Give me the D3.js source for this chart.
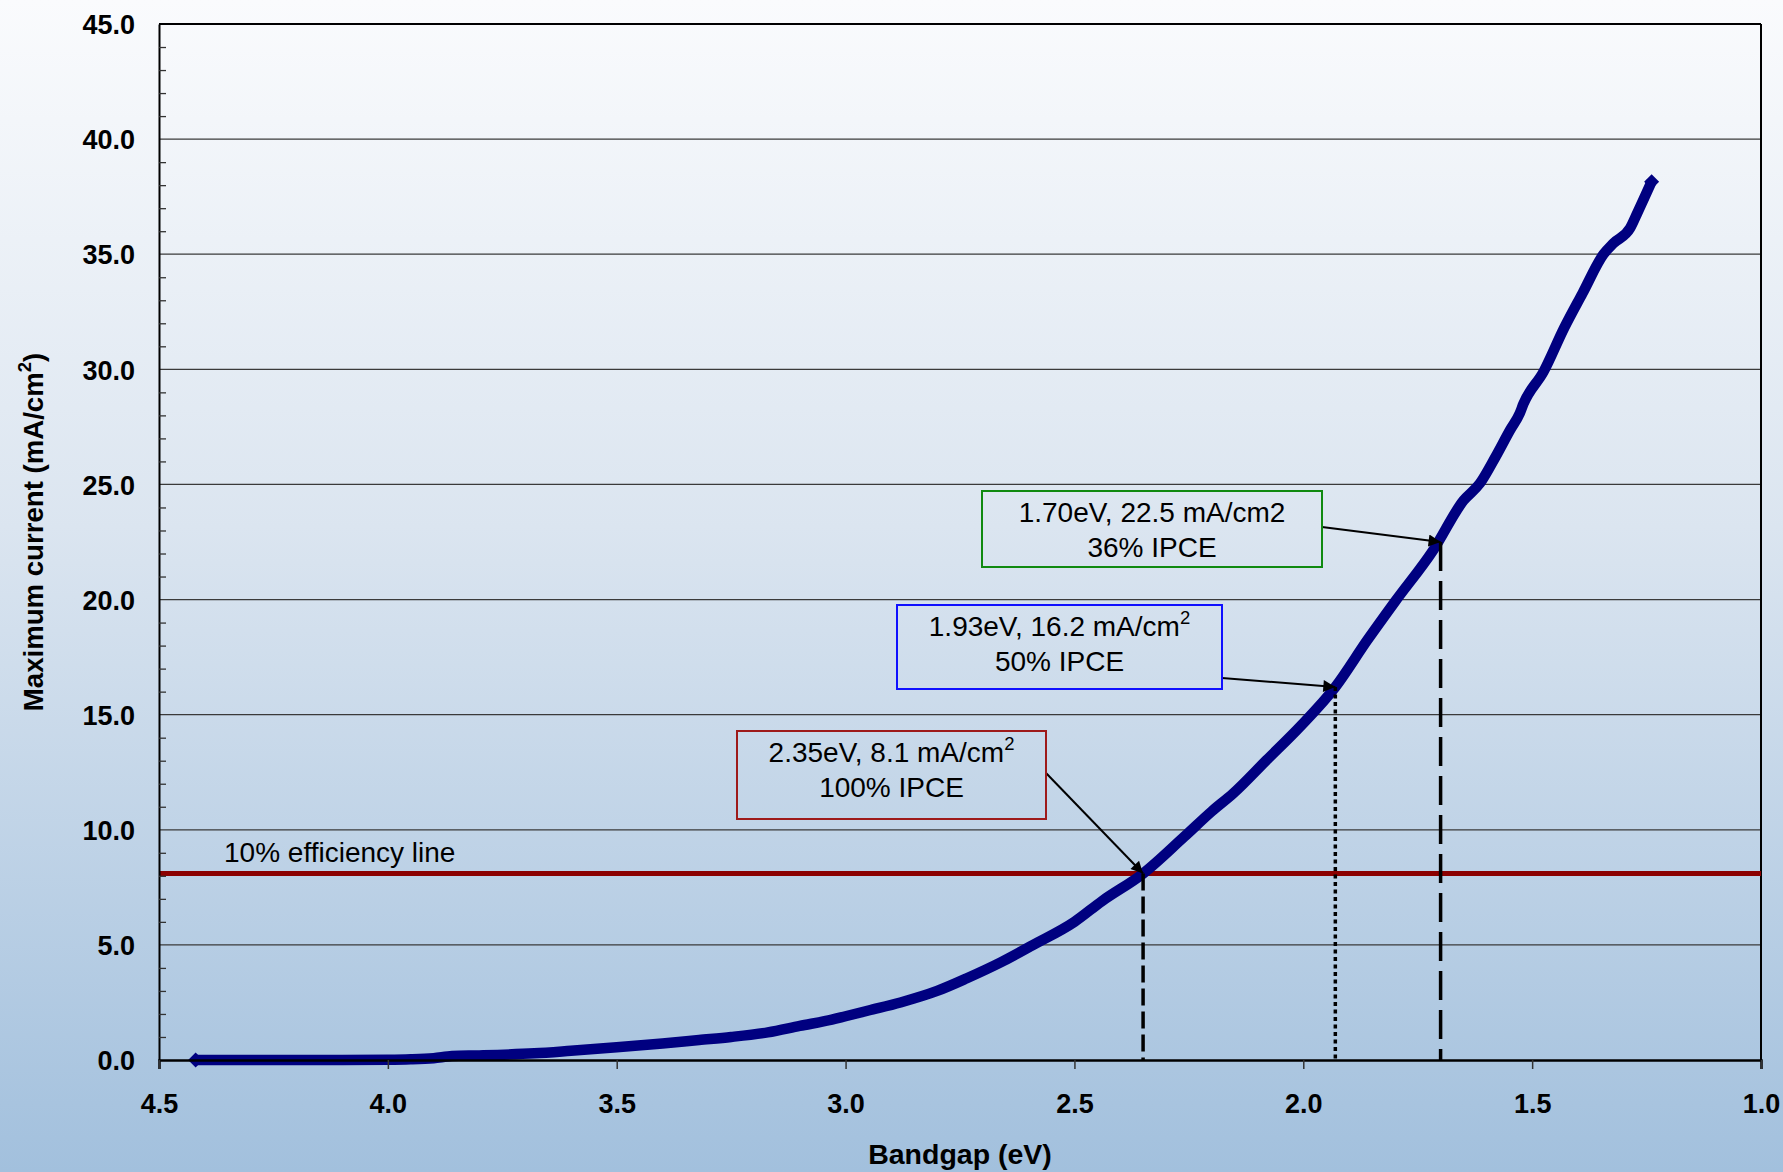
<!DOCTYPE html>
<html>
<head>
<meta charset="utf-8">
<script src="https://cdn.jsdelivr.net/npm/d3@7"></script>
<style>
  html, body { margin: 0; padding: 0; background: #ffffff; }
  svg { display: block; }
  text { font-family: "Liberation Sans", Arial, sans-serif; fill: #000; }
</style>
</head>
<body>
<div id="chart"></div>
<script>
// Maximum photocurrent versus semiconductor bandgap
const bandgap = [4.42, 4.30, 4.20, 4.10, 4.00, 3.95, 3.90, 3.86, 3.80, 3.68, 3.60, 3.50, 3.40, 3.32,
  3.25, 3.17, 3.10, 3.03, 3.00, 2.95, 2.88, 2.80, 2.735, 2.66, 2.59, 2.50, 2.44, 2.35, 2.26, 2.20,
  2.153, 2.08, 2.007, 1.93, 1.86, 1.80, 1.716, 1.65, 1.614, 1.58, 1.548, 1.527, 1.519, 1.475,
  1.43, 1.39, 1.344, 1.322, 1.286, 1.27, 1.239];
const current = [0.00, 0.00, 0.00, 0.00, 0.01, 0.03, 0.08, 0.17, 0.20, 0.29, 0.40, 0.55, 0.72, 0.87,
  1.00, 1.20, 1.48, 1.75, 1.90, 2.15, 2.50, 3.00, 3.55, 4.25, 5.00, 6.00, 6.90, 8.10, 9.70, 10.80,
  11.58, 13.03, 14.48, 16.20, 18.24, 19.90, 22.15, 24.30, 25.05, 26.20, 27.37, 28.09, 28.50, 29.90,
  31.80, 33.30, 35.00, 35.48, 36.13, 36.80, 38.15];

// Axes
const xTicks = [4.5, 4.0, 3.5, 3.0, 2.5, 2.0, 1.5, 1.0];
const yTicks = [0, 5, 10, 15, 20, 25, 30, 35, 40, 45];
const yMinorTicks = d3.range(0, 46, 1);

// 10% efficiency threshold (mA/cm2)
const efficiencyCurrent = 8.1;

// Annotated operating points
const annEnergy = [2.35, 1.93, 1.70];
const annCurrent = [8.1, 16.2, 22.5];
const annIPCE = ["100% IPCE", "50% IPCE", "36% IPCE"];
const annSuperscript = [true, true, false];

// Callout box geometry and styling
const annLayout = [
  { x: 737, y: 731, w: 309, h: 88, stroke: "#9e1a1a", ax: 1046, ay: 773, dash: "17,6" },
  { x: 897, y: 605, w: 325, h: 84, stroke: "#1010ff", ax: 1222, ay: 678, dash: "4,3.5" },
  { x: 982, y: 491, w: 340, h: 76, stroke: "#108a10", ax: 1322, ay: 527, dash: "29,10" }
];

const W = 1783, H = 1172;
const plot = { left: 159, right: 1761, top: 24, bottom: 1060 };

const svg = d3.select("#chart").append("svg")
  .attr("width", W).attr("height", H);

const defs = svg.append("defs");
const grad = defs.append("linearGradient").attr("id", "bg")
  .attr("x1", 0).attr("y1", 0).attr("x2", 0).attr("y2", 1);
grad.append("stop").attr("offset", "0%").attr("stop-color", "#fafbfd");
grad.append("stop").attr("offset", "45%").attr("stop-color", "#dbe5f0");
grad.append("stop").attr("offset", "100%").attr("stop-color", "#a2c0dd");

defs.append("marker").attr("id", "arrow")
  .attr("viewBox", "0 0 10 10").attr("refX", 10).attr("refY", 5)
  .attr("markerWidth", 7.5).attr("markerHeight", 6).attr("markerUnits", "strokeWidth")
  .attr("orient", "auto")
  .append("path").attr("d", "M0,0 L10,5 L0,10 Z").attr("fill", "#000");

svg.append("rect").attr("width", W).attr("height", H).attr("fill", "url(#bg)");

const x = d3.scaleLinear().domain([4.5, 1.0]).range([plot.left, plot.right]);
const y = d3.scaleLinear().domain([0, 45]).range([plot.bottom, plot.top]);

// Horizontal gridlines
svg.append("g").selectAll("line")
  .data(yTicks.filter(d => d > 0 && d < 45))
  .join("line")
  .attr("x1", plot.left).attr("x2", plot.right)
  .attr("y1", d => y(d)).attr("y2", d => y(d))
  .attr("stroke", "#3a3a3a").attr("stroke-width", 1.3);

// Plot frame: top and right edges
svg.append("line").attr("x1", plot.left).attr("x2", plot.right)
  .attr("y1", y(45)).attr("y2", y(45)).attr("stroke", "#000").attr("stroke-width", 2);
svg.append("line").attr("x1", plot.right).attr("x2", plot.right)
  .attr("y1", plot.top).attr("y2", plot.bottom).attr("stroke", "#000").attr("stroke-width", 2);

// Efficiency threshold line
svg.append("line")
  .attr("x1", x(4.5)).attr("x2", x(1.0))
  .attr("y1", y(efficiencyCurrent)).attr("y2", y(efficiencyCurrent))
  .attr("stroke", "#8b0000").attr("stroke-width", 5);
svg.append("text")
  .attr("x", 224).attr("y", y(efficiencyCurrent) - 12)
  .attr("font-size", 28)
  .text("10% efficiency line");

// Current curve
const pts = bandgap.map((e, i) => [e, current[i]]);
const line = d3.line().x(d => x(d[0])).y(d => y(d[1])).curve(d3.curveMonotoneX);
svg.append("path").datum(pts)
  .attr("d", line)
  .attr("fill", "none").attr("stroke", "#000080")
  .attr("stroke-width", 10.5).attr("stroke-linejoin", "round");
svg.append("g").selectAll("path")
  .data([pts[0], pts[pts.length - 1]])
  .join("path")
  .attr("transform", d => `translate(${x(d[0])},${y(d[1])})`)
  .attr("d", "M0,-7.5 L7.5,0 L0,7.5 L-7.5,0 Z")
  .attr("fill", "#000080");

// Drop lines from annotated points to the axis
svg.append("g").selectAll("line")
  .data(annEnergy)
  .join("line")
  .attr("x1", d => x(d)).attr("x2", d => x(d))
  .attr("y1", (d, i) => y(annCurrent[i])).attr("y2", y(0))
  .attr("stroke", "#000").attr("stroke-width", 3.5)
  .attr("stroke-dasharray", (d, i) => annLayout[i].dash);

// Callout boxes, arrows and labels
annEnergy.forEach((e, i) => {
  const L = annLayout[i];
  const g = svg.append("g");
  g.append("line")
    .attr("x1", L.ax).attr("y1", L.ay)
    .attr("x2", x(e)).attr("y2", y(annCurrent[i]))
    .attr("stroke", "#000").attr("stroke-width", 2)
    .attr("marker-end", "url(#arrow)");
  g.append("rect")
    .attr("x", L.x).attr("y", L.y).attr("width", L.w).attr("height", L.h)
    .attr("fill", "none").attr("stroke", L.stroke).attr("stroke-width", 2);
  const cx = L.x + L.w / 2;
  const t1 = g.append("text").attr("x", cx).attr("y", L.y + 31)
    .attr("text-anchor", "middle").attr("font-size", 28);
  t1.append("tspan").text(`${e.toFixed(2)}eV, ${annCurrent[i]} mA/cm${annSuperscript[i] ? "" : "2"}`);
  if (annSuperscript[i]) {
    t1.append("tspan").attr("font-size", 18.5).attr("dy", -12).text("2");
  }
  g.append("text").attr("x", cx).attr("y", L.y + 66)
    .attr("text-anchor", "middle").attr("font-size", 28)
    .text(annIPCE[i]);
});

// Y axis
const yAxis = svg.append("g").attr("transform", `translate(${plot.left},0)`)
  .call(d3.axisLeft(y).tickValues(yTicks).tickSize(0).tickPadding(24).tickFormat(d3.format(".1f")));
yAxis.select(".domain").attr("stroke", "#000").attr("stroke-width", 2);
yAxis.selectAll("text")
  .attr("font-family", "Liberation Sans, Arial, sans-serif")
  .attr("font-size", 27).attr("font-weight", "bold").attr("fill", "#000")
  .attr("dy", "0.36em");

svg.append("g").attr("transform", `translate(${plot.left},0)`)
  .call(d3.axisRight(y).tickValues(yMinorTicks.filter(d => d % 5 !== 0)).tickSize(7).tickFormat(""))
  .call(g => g.select(".domain").remove())
  .selectAll("line").attr("stroke", "#333").attr("stroke-width", 1.3);

// X axis
const xAxis = svg.append("g").attr("transform", `translate(0,${plot.bottom})`)
  .call(d3.axisBottom(x).tickValues(xTicks).tickSize(9).tickFormat(d3.format(".1f")));
xAxis.select(".domain").attr("stroke", "#000").attr("stroke-width", 2.5);
xAxis.selectAll(".tick line").attr("stroke", "#333").attr("stroke-width", 1.5);
xAxis.selectAll("text")
  .attr("font-family", "Liberation Sans, Arial, sans-serif")
  .attr("font-size", 27).attr("font-weight", "bold").attr("fill", "#000")
  .attr("y", 53).attr("dy", 0);

// Axis titles
svg.append("text")
  .attr("x", (plot.left + plot.right) / 2).attr("y", 1164)
  .attr("text-anchor", "middle").attr("font-size", 28.5).attr("font-weight", "bold")
  .text("Bandgap (eV)");

const yt = svg.append("text")
  .attr("transform", "translate(43,532) rotate(-90)")
  .attr("text-anchor", "middle").attr("font-size", 27.6).attr("font-weight", "bold");
yt.append("tspan").text("Maximum current (mA/cm");
yt.append("tspan").attr("font-size", 18.5).attr("dy", -12).text("2");
yt.append("tspan").attr("dy", 12).text(")");
</script>
</body>
</html>
